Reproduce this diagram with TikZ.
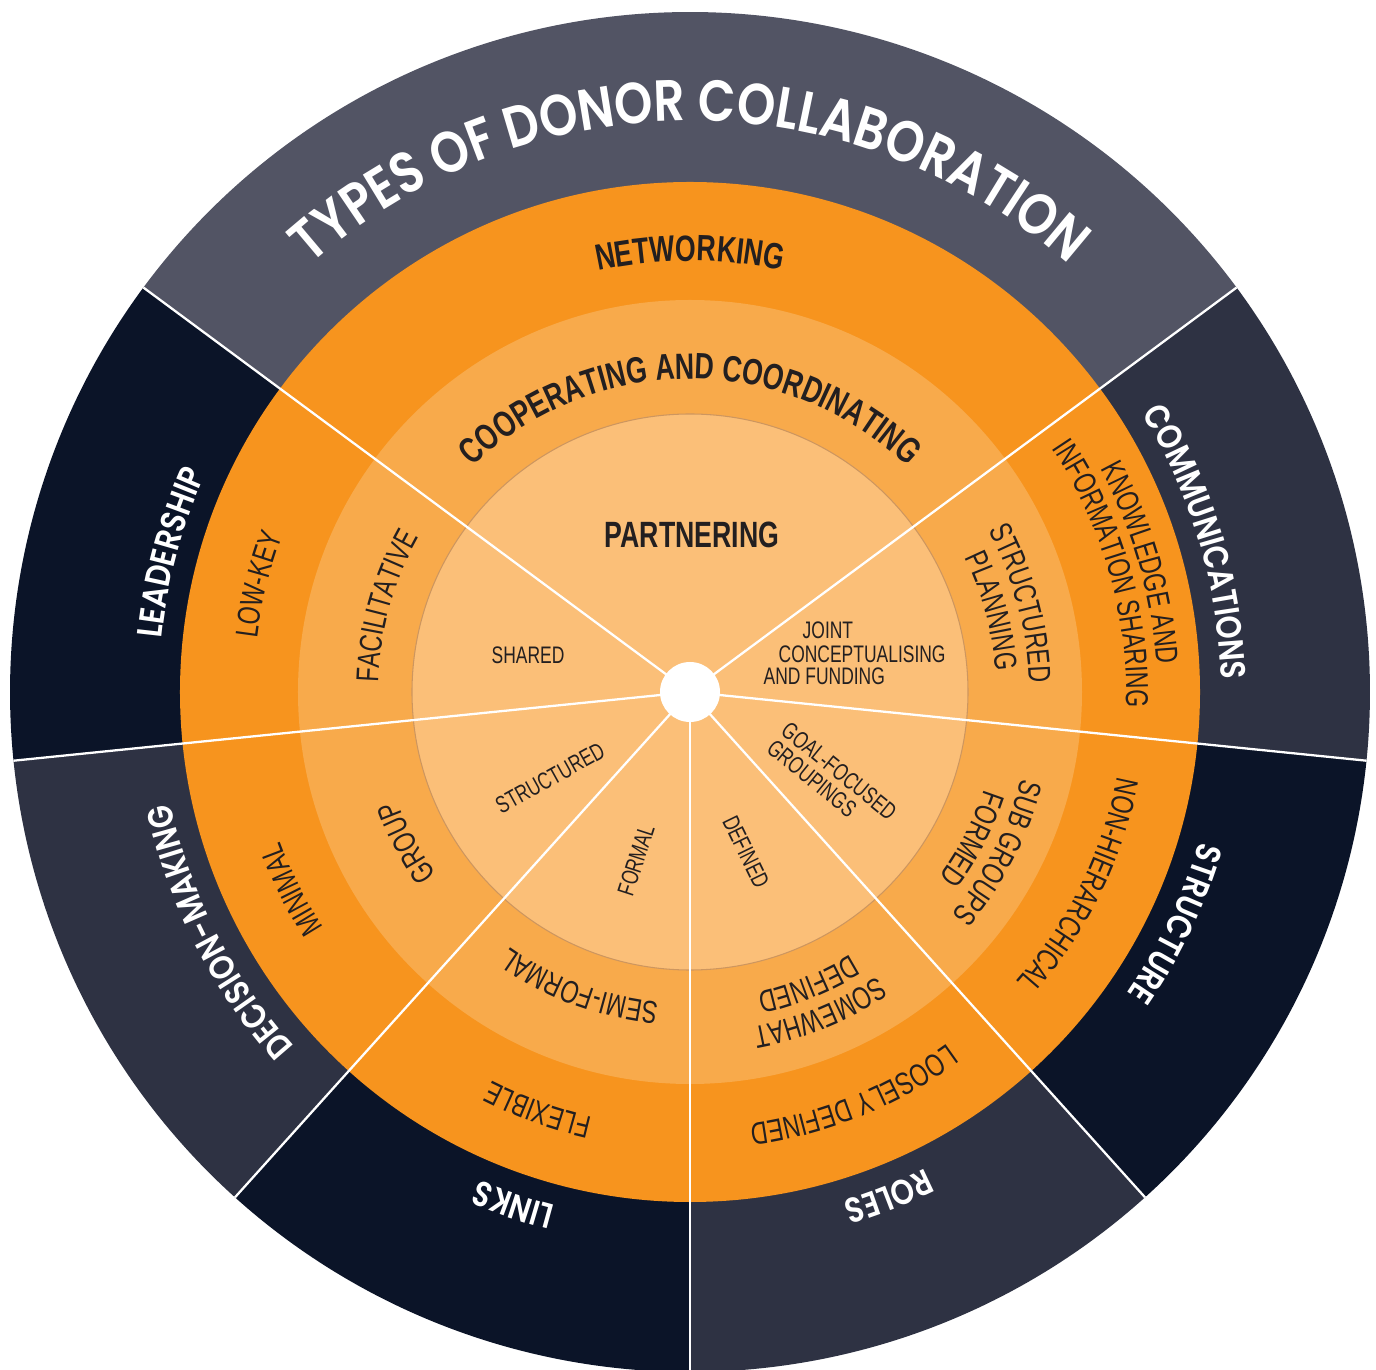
\documentclass[tikz,border=0pt]{standalone}
\usepackage{fontspec}
\usetikzlibrary{decorations.text}

\newfontfamily\headfont[FakeStretch=0.84]{Poppins SemiBold}
\newfontfamily\condfont[FakeStretch=0.73]{Liberation Sans}

\definecolor{topslate}{RGB}{82,84,100}
\definecolor{navy}{RGB}{11,20,40}
\definecolor{slate}{RGB}{46,50,67}
\definecolor{orangeA}{RGB}{247,148,30}
\definecolor{orangeB}{RGB}{248,170,75}
\definecolor{orangeC}{RGB}{251,191,120}
\definecolor{innerline}{RGB}{205,150,95}
\definecolor{labeltext}{RGB}{35,31,32}

\newcommand{\titlestyle}{\headfont\fontsize{16.5}{19}\selectfont}
\newcommand{\headstyle}{\headfont\fontsize{10}{12}\selectfont}
\newcommand{\boldstyle}{\condfont\bfseries\fontsize{10.4}{12}\selectfont}
\newcommand{\ringstyle}{\condfont\fontsize{9}{10}\selectfont}
\newcommand{\innerstyle}{\condfont\fontsize{6.8}{6.5}\selectfont}

\newcommand{\ringtext}[5][labeltext]{%
  \path[decorate,decoration={text along path,text align=center,text color=#1,
    text={|#4|#5}}] ({#3+60}:#2) arc[start angle={#3+60},end angle={#3-60},radius=#2];}

\begin{document}
\begin{tikzpicture}[x=0.01cm,y=0.01cm,
        spoke/.style={white,line width=0.65pt},
        inlabel/.style={font=\innerstyle,text=labeltext,inner sep=0pt},
        boldlabel/.style={font=\boldstyle,text=labeltext,inner sep=0pt}]
      \path[use as bounding box,fill=white] (-690,-678) rectangle (686,692);
      \foreach \a/\b/\c in {36.5/143.5/topslate,143.5/185.8/navy,185.8/228/slate,228/270/navy,
          270/312/slate,312/354.2/navy,354.2/396.5/slate}
        \fill[fill=\c] (0,0) -- (\a:680) arc[start angle=\a,end angle=\b,radius=680] -- cycle;
      \fill[orangeA] (0,0) circle[radius=510];
      \fill[orangeB] (0,0) circle[radius=392];
      \filldraw[fill=orangeC,draw=innerline,line width=0.3pt] (0,0) circle[radius=278];
      \foreach \a in {36.5,143.5,185.8,228,270,312,354.2}
        \draw[spoke] (0,0) -- (\a:680);
      \fill[white] (0,0) circle[radius=30];

      \ringtext[white]{571}{90}{\titlestyle}{TYPES OF DONOR COLLABORATION}
      \ringtext[white]{531}{165}{\headstyle}{LEADERSHIP}
      \ringtext[white]{531}{207}{\headstyle}{DECISION-MAKING}
      \ringtext[white]{531}{251}{\headstyle}{LINKS}
      \ringtext[white]{531}{291.5}{\headstyle}{ROLES}
      \ringtext[white]{531}{334.5}{\headstyle}{STRUCTURE}
      \ringtext[white]{531}{16.5}{\headstyle}{COMMUNICATIONS}

      \ringtext{431}{90}{\boldstyle}{NETWORKING}
      \ringtext{436}{166}{\ringstyle}{LOW-KEY}
      \ringtext{436}{206.4}{\ringstyle}{MINIMAL}
      \ringtext{436}{250}{\ringstyle}{FLEXIBLE}
      \ringtext{436}{292}{\ringstyle}{LOOSELY DEFINED}
      \ringtext{436}{333.6}{\ringstyle}{NON-HIERARCHICAL}
      \ringtext{467}{16}{\ringstyle}{KNOWLEDGE AND}
      \ringtext{436}{16}{\ringstyle}{INFORMATION SHARING}

      \ringtext{313}{90}{\boldstyle}{COOPERATING AND COORDINATING}
      \ringtext{312}{164.3}{\ringstyle}{FACILITATIVE}
      \ringtext{312}{208}{\ringstyle}{GROUP}
      \ringtext{312}{249.5}{\ringstyle}{SEMI-FORMAL}
      \ringtext{341}{292}{\ringstyle}{SOMEWHAT}
      \ringtext{308}{292}{\ringstyle}{DEFINED}
      \ringtext{343}{332.5}{\ringstyle}{SUB GROUPS}
      \ringtext{310}{332.5}{\ringstyle}{FORMED}
      \ringtext{339}{15}{\ringstyle}{STRUCTURED}
      \ringtext{306}{15}{\ringstyle}{PLANNING}

      \node[boldlabel] (partnering) at (2,157) {PARTNERING};
      \node[inlabel] (shared) at (-162,37) {SHARED};
      \node[inlabel,anchor=base west] (joint) at (112,53) {JOINT};
      \node[inlabel,anchor=base west] (concept) at (88,29) {CONCEPTUALISING};
      \node[inlabel,anchor=base west] (funding) at (73,7) {AND FUNDING};
      \node[inlabel,rotate=29] (structured) at (-140,-86) {STRUCTURED};
      \node[inlabel,rotate=72] (formal) at (-54,-168) {FORMAL};
      \node[inlabel,rotate=-64] (defined) at (56,-160) {DEFINED};
      \node[inlabel,rotate=-39,align=left] (goal) at (142,-88) {GOAL-FOCUSED\\GROUPINGS};
    \end{tikzpicture}
\end{document}
